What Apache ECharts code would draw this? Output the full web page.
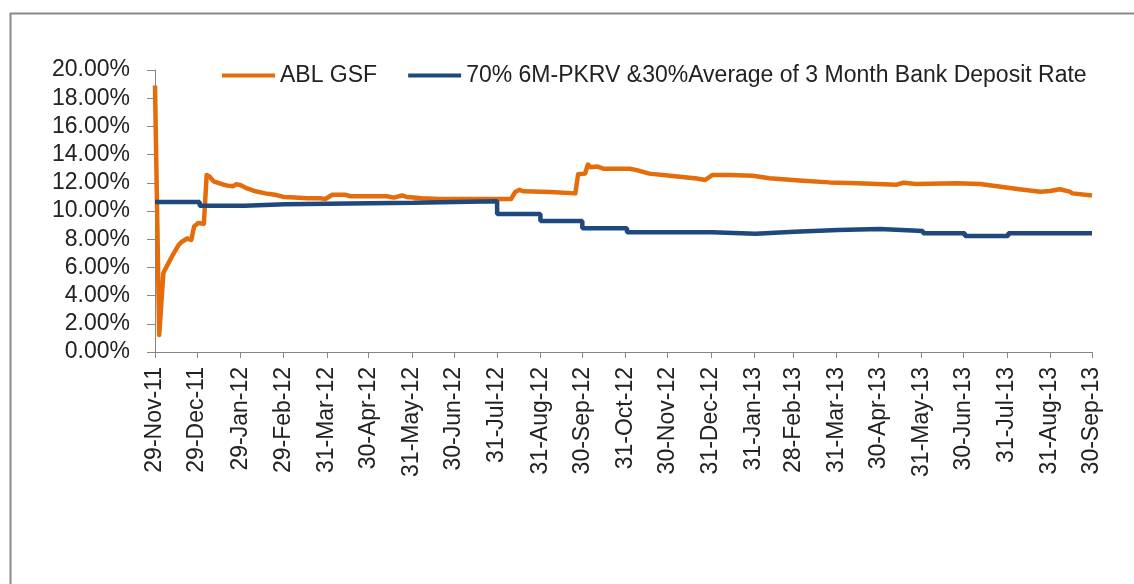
<!DOCTYPE html>
<html>
<head>
<meta charset="utf-8">
<script src="https://cdn.jsdelivr.net/npm/echarts@6/dist/echarts.min.js"></script>
<style>
  html, body { margin: 0; padding: 0; background: #fff; }
  #chart { width: 1134px; height: 584px; }
</style>
</head>
<body>
<div id="chart"></div>
<script>
// Axis range (daily dates) and labelled tick dates
const startDate = '2011-11-29';
const endDate = '2013-09-30';
const tickLabels = ['29-Nov-11','29-Dec-11','29-Jan-12','29-Feb-12','31-Mar-12','30-Apr-12','31-May-12',
  '30-Jun-12','31-Jul-12','31-Aug-12','30-Sep-12','31-Oct-12','30-Nov-12','31-Dec-12','31-Jan-13',
  '28-Feb-13','31-Mar-13','30-Apr-13','31-May-13','30-Jun-13','31-Jul-13','31-Aug-13','30-Sep-13'];
const yTicks = [0, 2, 4, 6, 8, 10, 12, 14, 16, 18, 20];

const seriesNames = ['ABL GSF', '70% 6M-PKRV &30%Average of 3 Month Bank Deposit Rate'];

// ABL GSF (%)
const ablDates = ['29-Nov-11','2-Dec-11','5-Dec-11','7-Dec-11','11-Dec-11','13-Dec-11','16-Dec-11','18-Dec-11',
  '22-Dec-11','25-Dec-11','27-Dec-11','30-Dec-11','3-Jan-12','5-Jan-12','7-Jan-12','10-Jan-12','16-Jan-12',
  '20-Jan-12','24-Jan-12','26-Jan-12','29-Jan-12','3-Feb-12','9-Feb-12','16-Feb-12','23-Feb-12','29-Feb-12',
  '8-Mar-12','17-Mar-12','26-Mar-12','30-Mar-12','4-Apr-12','13-Apr-12','17-Apr-12','13-May-12','18-May-12',
  '24-May-12','27-May-12','1-Jun-12','7-Jun-12','8-Jun-12','20-Jun-12','31-Jul-12','10-Aug-12','13-Aug-12',
  '16-Aug-12','19-Aug-12','7-Sep-12','8-Sep-12','25-Sep-12','27-Sep-12','2-Oct-12','4-Oct-12','6-Oct-12',
  '11-Oct-12','15-Oct-12','22-Oct-12','23-Oct-12','26-Oct-12','3-Nov-12','8-Nov-12','17-Nov-12','2-Dec-12',
  '21-Dec-12','27-Dec-12','1-Jan-13','14-Jan-13','30-Jan-13','11-Feb-13','7-Mar-13','26-Mar-13','15-Apr-13',
  '13-May-13','18-May-13','27-May-13','25-Jun-13','12-Jul-13','24-Jul-13','9-Aug-13','24-Aug-13','31-Aug-13',
  '7-Sep-13','14-Sep-13','16-Sep-13','30-Sep-13'];
const ablValues = [18.9,1.2,5.6,6.0,6.75,7.1,7.6,7.8,
  8.05,7.95,8.9,9.15,9.1,12.55,12.45,12.1,11.9,
  11.8,11.75,11.9,11.85,11.6,11.4,11.25,11.15,11.0,
  10.95,10.9,10.9,10.85,11.15,11.15,11.05,11.05,10.95,
  11.1,11.0,10.95,10.9,10.85,10.85,10.85,10.85,11.35,
  11.5,11.4,11.35,11.25,11.25,12.6,12.65,13.3,13.1,
  13.15,13.0,13.0,13.1,13.0,13.0,12.9,12.65,12.5,
  12.3,12.2,12.55,12.55,12.5,12.32,12.15,12.03,11.96,
  11.87,12.0,11.91,11.96,11.91,11.75,11.54,11.37,11.42,
  11.54,11.37,11.25,11.1];

// Benchmark (%), step changes
const bmDates = ['29-Nov-11','31-Dec-11','1-Feb-12','1-Mar-12','1-Jun-12','31-Jul-12','31-Aug-12','30-Sep-12',
  '1-Nov-12','1-Jan-13','1-Feb-13','1-Mar-13','1-Apr-13','1-May-13','1-Jun-13','1-Jul-13','1-Aug-13','30-Sep-13'];
const bmValues = [10.64,10.38,10.47,10.59,10.69,9.79,9.29,8.77,
  8.49,8.39,8.53,8.65,8.72,8.58,8.42,8.23,8.42,8.42];

// ---- build daily category list ----
const MON = ['Jan','Feb','Mar','Apr','May','Jun','Jul','Aug','Sep','Oct','Nov','Dec'];
function fmt(d) {
  return d.getUTCDate() + '-' + MON[d.getUTCMonth()] + '-' + String(d.getUTCFullYear()).slice(2);
}
const categories = [];
for (let t = Date.parse(startDate + 'T00:00:00Z'); t <= Date.parse(endDate + 'T00:00:00Z'); t += 86400000) {
  categories.push(fmt(new Date(t)));
}
const idx = {};
categories.forEach((c, i) => { idx[c] = i; });
const tickSet = new Set(tickLabels);
const showTick = (i, v) => tickSet.has(v);

const ablData = ablDates.map((d, i) => [idx[d], ablValues[i]]);
const bmData = bmDates.map((d, i) => [idx[d], bmValues[i]]);

const FONT = 'Liberation Sans';
const TXT = '#222222';
const AX = '#868686';
const ORANGE = '#E46C0A';
const BLUE = '#1F497D';

const chart = echarts.init(document.getElementById('chart'), null, { renderer: 'canvas' });
chart.setOption({
  animation: false,
  backgroundColor: '#ffffff',
  graphic: [{
    type: 'rect',
    shape: { x: 10.5, y: 13.5, width: 1200, height: 700 },
    style: { fill: 'none', stroke: '#8a8a8a', lineWidth: 2 },
    silent: true
  }],
  legend: {
    left: 222,
    top: 64,
    padding: 0,
    icon: 'rect',
    itemWidth: 53,
    itemHeight: 4,
    itemGap: 31,
    textStyle: { fontFamily: FONT, fontSize: 23, color: TXT },
    data: seriesNames
  },
  grid: { left: 155, right: 42, top: 70, bottom: 232, containLabel: false },
  xAxis: {
    type: 'category',
    data: categories,
    boundaryGap: false,
    axisLine: { lineStyle: { color: AX, width: 1 } },
    axisTick: { show: true, interval: showTick, length: 6, lineStyle: { color: AX } },
    axisLabel: {
      interval: showTick, rotate: 90, margin: 15,
      fontFamily: FONT, fontSize: 23, color: TXT
    },
    splitLine: { show: false }
  },
  yAxis: {
    type: 'value',
    min: yTicks[0], max: yTicks[yTicks.length - 1], interval: yTicks[1] - yTicks[0],
    axisLine: { show: true, lineStyle: { color: AX, width: 1 } },
    axisTick: { show: true, length: 8, lineStyle: { color: AX } },
    axisLabel: {
      margin: 25, fontFamily: FONT, fontSize: 23, color: TXT,
      formatter: v => v.toFixed(2) + '%'
    },
    splitLine: { show: false }
  },
  series: [
    {
      name: seriesNames[0], type: 'line', data: ablData,
      symbol: 'none', lineStyle: { color: ORANGE, width: 4.5, join: 'round' }, itemStyle: { color: ORANGE }
    },
    {
      name: seriesNames[1], type: 'line', data: bmData, step: 'end',
      symbol: 'none', lineStyle: { color: BLUE, width: 4.5 }, itemStyle: { color: BLUE }
    }
  ]
});
</script>
</body>
</html>
